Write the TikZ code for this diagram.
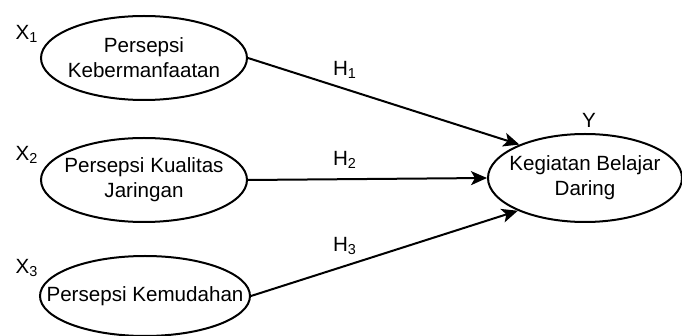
\documentclass[tikz,border=0pt]{standalone}
\usepackage{fontspec}
\setmainfont{Liberation Sans}
\usetikzlibrary{shapes.geometric}
\usetikzlibrary{arrows.meta}

\tikzset{
  construct/.style={ellipse, draw, line width=1pt, align=center, inner ysep=0pt, inner xsep=-8pt},
  path/.style={line width=1pt, -{Stealth[length=8pt, width=7pt, inset=2pt]}}
}

\begin{document}
\begin{tikzpicture}[x=0.5pt, y=-0.5pt, font=\fontsize{10.3pt}{12.5pt}\selectfont]

\useasboundingbox (0,0) rectangle (682,336);

% latent variables
\node[construct, minimum width=103pt, minimum height=42pt] (kebermanfaatan) at (144,58) {Persepsi\\Kebermanfaatan};
\node[construct, minimum width=103pt, minimum height=42pt] (kualitas) at (144,180) {Persepsi Kualitas\\Jaringan};
\node[construct, minimum width=105pt, minimum height=40pt, inner xsep=-14pt] (kemudahan) at (145,296) {Persepsi Kemudahan};
\node[construct, minimum width=97pt, minimum height=44pt] (belajar) at (585,178) {Kegiatan Belajar\\Daring};

% variable names
\node (x1) at (27,34) {X\textsubscript{1}};
\node (x2) at (27,155) {X\textsubscript{2}};
\node (x3) at (27,268) {X\textsubscript{3}};
\node (y) at (589,120) {Y};

% hypotheses
\draw[path] (kebermanfaatan.east) -- (belajar.153);
\draw[path] (kualitas.east) -- (belajar.west);
\draw[path] (kemudahan.east) -- (belajar.206);

\path
(345,70) node (h1) {H\textsubscript{1}}
(345,160) node (h2) {H\textsubscript{2}}
(345,246) node (h3) {H\textsubscript{3}};

\end{tikzpicture}
\end{document}
